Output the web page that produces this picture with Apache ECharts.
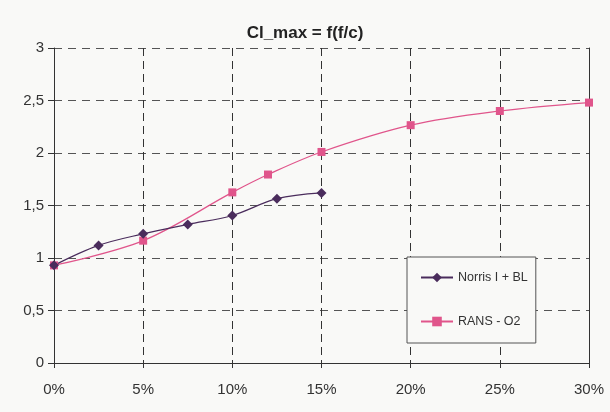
<!DOCTYPE html>
<html>
<head>
<meta charset="utf-8">
<script src="https://cdn.jsdelivr.net/npm/echarts@6/dist/echarts.min.js"></script>
<style>
html,body{margin:0;padding:0;background:#ffffff;}
#chart{position:absolute;left:0;top:0;width:610px;height:412px;}
</style>
</head>
<body>
<div id="chart"></div>
<script>
var titleText = 'Cl_max = f(f/c)';
var seriesNames = ['Norris I + BL', 'RANS - O2'];
var norrisX = [0, 2.5, 5, 7.5, 10, 12.5, 15];
var norrisY = [0.93, 1.12, 1.23, 1.32, 1.405, 1.565, 1.62];
var ransX = [0, 5, 10, 12, 15, 20, 25, 30];
var ransY = [0.93, 1.165, 1.625, 1.795, 2.01, 2.265, 2.40, 2.48];
var xTicks = [0, 5, 10, 15, 20, 25, 30];
var yTicks = [0, 0.5, 1, 1.5, 2, 2.5, 3];

function pairs(xs, ys){ return xs.map(function(x,i){ return [x, ys[i]]; }); }

var font = '"Liberation Sans", Arial, sans-serif';
var chart = echarts.init(document.getElementById('chart'), null, {renderer:'canvas'});
chart.setOption({
  backgroundColor: '#f9f9f7',
  animation: false,
  title: {
    text: titleText, left: 'center', top: 20,
    textStyle: {fontFamily: font, fontSize: 17, fontWeight: 'bold', color: '#222'}
  },
  grid: {left: 54, right: 21, top: 48, bottom: 49},
  xAxis: {
    type: 'value', min: 0, max: 30, interval: 5,
    axisLine: {show: true, lineStyle: {color: '#333', width: 1}},
    axisTick: {show: true, length: 5, lineStyle: {color: '#333'}},
    axisLabel: {margin: 19, fontFamily: font, fontSize: 15, color: '#333',
      formatter: function(v){ return xTicks.indexOf(v) >= 0 ? v + '%' : ''; }},
    splitLine: {show: true, lineStyle: {color: '#333', type: [8,5], width: 1}}
  },
  yAxis: [{
    type: 'value', min: 0, max: 3, interval: 0.5,
    axisLine: {show: true, lineStyle: {color: '#333', width: 1}},
    axisTick: {show: true, length: 6, lineStyle: {color: '#333'}},
    axisLabel: {margin: 10, fontFamily: font, fontSize: 15, color: '#333',
      formatter: function(v){ return yTicks.indexOf(v) >= 0 ? String(v).replace('.', ',') : ''; }},
    splitLine: {show: true, lineStyle: {color: '#555', type: [8,6], width: 1}}
  }, {
    type: 'value', min: 0, max: 3, interval: 0.5, position: 'right',
    axisLine: {show: true, lineStyle: {color: '#333', width: 1}},
    axisTick: {show: false}, axisLabel: {show: false}, splitLine: {show: false}
  }],
  legend: {
    orient: 'vertical', left: 407, top: 257,
    padding: [14, 8, 15, 13], itemGap: 31, itemWidth: 32, itemHeight: 12,
    borderColor: '#555', borderWidth: 1, backgroundColor: '#f9f9f7',
    textStyle: {fontFamily: font, fontSize: 12.5, color: '#333'},
    data: seriesNames
  },
  series: [{
    name: seriesNames[1], type: 'line', smooth: 0.35,
    data: pairs(ransX, ransY),
    symbol: 'rect', symbolSize: 8,
    lineStyle: {color: '#e0558b', width: 1.2},
    itemStyle: {color: '#e0558b'}
  }, {
    name: seriesNames[0], type: 'line', smooth: 0.35,
    data: pairs(norrisX, norrisY),
    symbol: 'diamond', symbolSize: 10,
    lineStyle: {color: '#4a2c5c', width: 1.2},
    itemStyle: {color: '#4a2c5c'}
  }]
});
</script>
</body>
</html>
